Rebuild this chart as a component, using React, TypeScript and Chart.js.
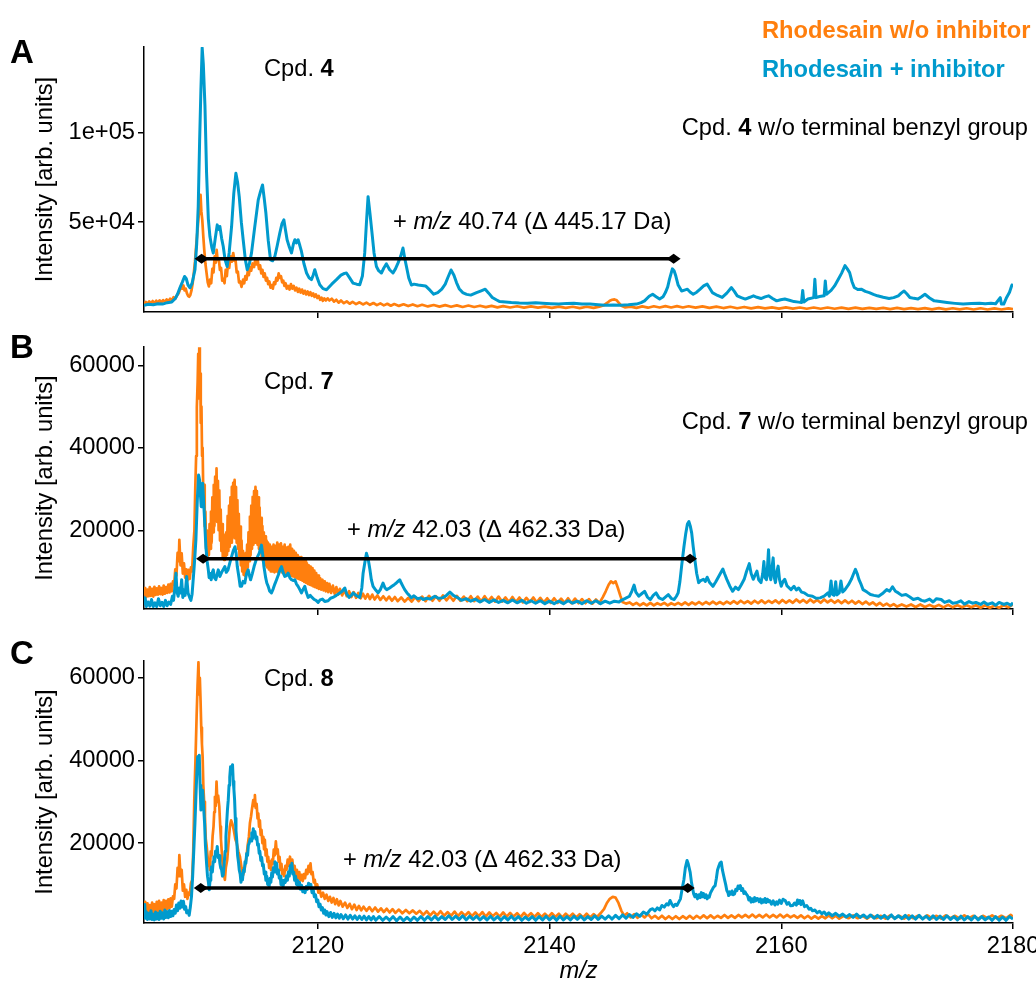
import React, { useEffect, useRef } from 'react';
import { Chart, registerables } from 'chart.js';

Chart.register(...registerables);

type Pt = [number, number];

const FAMILY = '"Liberation Sans", Arial, Helvetica, sans-serif';
const ORANGE = '#FF7F0E';
const BLUE = '#009ACD';

// ---------- axes ----------
const X_MIN = 2105;
const X_MAX = 2180;
const X_TICKS = [2120, 2140, 2160, 2180];
const X_TICK_LABELS = ['2120', '2140', '2160', '2180'];

const A_Y_RANGE = [0, 147500];
const A_Y_TICKS = [50000, 100000];
const A_Y_LABELS = ['5e+04', '1e+05'];
const B_Y_RANGE = [900, 64400];
const C_Y_RANGE = [650, 64100];
const BC_Y_TICKS = [20000, 40000, 60000];
const BC_Y_LABELS = ['20000', '40000', '60000'];

// ---------- mass shift arrows: [from m/z, to m/z, intensity] ----------
const A_ARROW = [2109.97, 2150.71, 29600];
const B_ARROW = [2110.1, 2152.13, 13060];
const C_ARROW = [2109.9, 2151.93, 9100];

// ---------- Panel A (Cpd. 4) ----------
const A_with: Pt[] = [
  [2105.0,3800],[2105.4,4300],[2105.8,4000],[2106.2,4600],[2106.6,4400],[2107.0,5200],[2107.4,5600],[2107.7,7500],[2107.9,10000],
  [2108.1,13500],[2108.3,16500],[2108.5,19800],[2108.65,18500],[2108.8,15000],[2108.97,13500],[2109.15,16000],[2109.4,23500],
  [2109.55,38000],[2109.68,58700],[2109.8,95000],[2109.91,123500],[2110.02,147000],[2110.12,138000],[2110.26,115000],[2110.4,77400],
  [2110.55,52000],[2110.69,42000],[2110.85,36000],[2110.98,32800],[2111.15,41000],[2111.32,48500],[2111.45,46000],[2111.55,47600],
  [2111.7,41000],[2111.84,36500],[2112.0,29000],[2112.18,25300],[2112.35,33000],[2112.56,47600],[2112.75,66000],[2112.93,77200],
  [2113.08,72000],[2113.22,64200],[2113.4,50000],[2113.56,40200],[2113.75,29000],[2113.91,23500],[2114.1,27000],[2114.28,32900],
  [2114.55,47000],[2114.86,62400],[2115.05,67000],[2115.23,70700],[2115.38,63000],[2115.52,55100],[2115.72,40000],[2115.92,29000],
  [2116.1,28500],[2116.29,30900],[2116.5,37000],[2116.72,43900],[2116.9,49000],[2117.07,51300],[2117.2,46000],[2117.35,40200],
  [2117.55,36000],[2117.73,32900],[2117.9,38000],[2118.02,40200],[2118.15,38500],[2118.3,40200],[2118.45,37000],[2118.59,33700],
  [2118.8,27000],[2119.03,21700],[2119.25,19000],[2119.45,18000],[2119.6,20500],[2119.74,23500],[2119.95,19000],[2120.17,15200],
  [2120.45,13000],[2120.75,12400],[2121.2,15500],[2121.61,18000],[2122.0,20500],[2122.3,21500],[2122.47,21700],[2122.75,19000],
  [2123.04,16100],[2123.35,15500],[2123.62,15200],[2123.85,20000],[2124.05,32900],[2124.2,50000],[2124.34,64200],[2124.5,55000],
  [2124.68,43900],[2124.85,33000],[2125.06,25300],[2125.25,23000],[2125.49,21700],[2125.7,24500],[2125.92,26800],[2126.2,23500],
  [2126.49,21700],[2126.7,24000],[2126.92,27200],[2127.15,31000],[2127.35,35600],[2127.5,30000],[2127.65,25300],[2127.85,19000],
  [2128.08,15000],[2128.3,15500],[2128.67,15000],[2129.3,14500],[2129.7,12000],[2130.0,9900],[2130.35,10800],[2130.7,12700],
  [2131.0,15500],[2131.2,18800],[2131.5,23400],[2131.75,20500],[2131.97,16400],[2132.2,13000],[2132.5,10800],[2132.85,9800],
  [2133.2,9400],[2133.7,10800],[2134.1,11800],[2134.45,12700],[2134.75,10500],[2135.06,8100],[2135.4,6800],[2135.7,5800],
  [2136.2,5600],[2136.7,5300],[2137.4,5000],[2138.1,4900],[2138.8,5200],[2139.4,4900],[2140.1,4600],[2140.8,4400],[2141.5,4800],
  [2142.1,4900],[2142.8,4500],[2143.5,4400],[2144.2,4100],[2144.8,3800],[2145.5,3900],[2146.15,3800],[2146.8,4000],[2147.5,4400],
  [2147.9,5200],[2148.2,6200],[2148.6,8800],[2148.9,9900],[2149.2,8500],[2149.5,7200],[2149.8,8500],[2150.0,10800],[2150.2,14000],
  [2150.35,18200],[2150.6,24000],[2150.75,23000],[2150.9,20000],[2151.1,15000],[2151.4,11700],[2151.65,12200],[2151.9,12700],
  [2152.15,11000],[2152.4,9900],[2152.7,11000],[2153.0,12700],[2153.3,14500],[2153.6,15500],[2153.8,13500],[2154.05,10800],
  [2154.5,9200],[2154.9,8100],[2155.3,10500],[2155.7,13600],[2155.95,11500],[2156.2,9000],[2156.55,8000],[2156.9,7200],
  [2157.3,8200],[2157.6,9000],[2157.9,8200],[2158.25,7500],[2158.6,8400],[2158.9,9000],[2159.25,7500],[2159.6,6200],[2159.95,6800],
  [2160.3,7200],[2160.7,6500],[2161.1,5800],[2161.5,5500],[2161.75,5300],[2161.85,12000],[2161.95,5600],[2162.3,7200],[2162.8,8000],
  [2162.9,18200],[2163.0,8000],[2163.3,8600],[2163.7,9000],[2163.8,17300],[2163.9,9900],[2164.3,12000],[2164.6,14500],[2164.9,18000],
  [2165.2,21500],[2165.5,25800],[2165.7,24000],[2165.9,21900],[2166.1,17000],[2166.3,13600],[2166.6,12500],[2166.9,12700],
  [2167.25,11500],[2167.6,10800],[2167.95,9800],[2168.3,9000],[2168.8,8200],[2169.3,7500],[2169.7,8000],[2170.1,9000],[2170.35,10500],
  [2170.6,11700],[2170.85,10000],[2171.1,8100],[2171.45,7600],[2171.8,7200],[2172.1,8500],[2172.4,9900],[2172.8,7800],[2173.2,6200],
  [2173.7,5800],[2174.3,5300],[2175.0,4800],[2175.7,4400],[2176.4,4700],[2177.1,4900],[2177.6,4600],[2178.1,4900],[2178.5,4600],
  [2178.9,8000],[2179.0,4500],[2179.2,4400],[2179.45,8100],[2179.7,11000],[2179.9,14900],[2180.0,15500],
];

const A_without: Pt[] = [
  [2105.0,4200],[2105.15,5600],[2105.3,4600],[2105.45,5900],[2105.6,4800],[2105.75,6100],[2105.9,5000],[2106.05,6300],[2106.2,5200],
  [2106.35,6500],[2106.5,5400],[2106.65,6600],[2106.8,5600],[2106.95,7000],[2107.1,6000],[2107.25,7400],[2107.4,6600],[2107.55,8200],
  [2107.7,7400],[2107.85,9300],[2108.0,10500],[2108.1,12500],[2108.2,14500],[2108.3,13000],[2108.4,14800],[2108.5,12000],[2108.6,13000],
  [2108.7,10500],[2108.8,9000],[2108.9,8500],[2109.0,9500],[2109.1,12000],[2109.2,16000],[2109.3,21700],[2109.4,28000],[2109.5,36500],
  [2109.6,44000],[2109.7,52000],[2109.8,58000],[2109.88,65200],[2109.95,56000],[2110.03,51300],[2110.12,42000],[2110.2,34600],
  [2110.3,27000],[2110.4,21700],[2110.5,16500],[2110.6,14200],[2110.7,18000],[2110.8,16000],[2110.9,24000],[2111.0,22000],
  [2111.1,31000],[2111.2,27500],[2111.27,34600],[2111.35,29000],[2111.45,30000],[2111.55,23500],[2111.65,24500],[2111.75,17500],
  [2111.84,18500],[2111.95,16000],[2112.05,23500],[2112.15,20000],[2112.25,27000],[2112.35,24500],[2112.47,31000],[2112.58,28000],
  [2112.7,32800],[2112.8,28500],[2112.9,29000],[2113.0,22000],[2113.1,22500],[2113.2,16500],[2113.3,17000],[2113.42,14000],
  [2113.55,18000],[2113.65,16000],[2113.75,20000],[2113.85,18000],[2113.95,22500],[2114.05,20500],[2114.15,25000],[2114.25,23000],
  [2114.37,27000],[2114.5,25000],[2114.6,29000],[2114.71,26500],[2114.82,28500],[2114.92,24000],[2115.02,26000],[2115.12,21500],
  [2115.22,23500],[2115.32,19500],[2115.42,21500],[2115.52,17500],[2115.62,19000],[2115.72,15500],[2115.82,17000],[2115.92,13500],
  [2116.02,15000],[2116.12,13000],[2116.22,16500],[2116.32,15500],[2116.42,19000],[2116.52,17500],[2116.62,21500],[2116.72,19000],
  [2116.82,20000],[2116.92,16500],[2117.02,17500],[2117.12,14500],[2117.22,16000],[2117.32,13000],[2117.44,14500],[2117.56,12500],
  [2117.68,15500],[2117.8,13000],[2117.92,14500],[2118.04,12000],[2118.16,13500],[2118.28,11200],[2118.4,13000],[2118.52,10800],
  [2118.64,12500],[2118.76,10200],[2118.88,11800],[2119.0,9800],[2119.12,11400],[2119.24,9400],[2119.36,11000],[2119.48,9000],
  [2119.6,10400],[2119.72,8400],[2119.84,9800],[2119.96,7800],[2120.08,9000],[2120.2,6800],[2120.32,8000],[2120.44,6200],
  [2120.56,7600],[2120.7,6400],[2120.85,7600],[2121.0,6400],[2121.2,7400],[2121.4,5800],[2121.6,6800],[2121.8,5200],[2122.0,6400],
  [2122.25,4900],[2122.5,5900],[2122.75,4600],[2123.0,5600],[2123.3,4400],[2123.6,5400],[2123.9,4200],[2124.2,5200],[2124.5,4000],
  [2124.8,5000],[2125.1,3800],[2125.4,4800],[2125.7,3700],[2126.0,4600],[2126.3,3500],[2126.6,4400],[2127.0,3400],[2127.4,4300],
  [2127.8,3300],[2128.2,4200],[2128.6,3200],[2129.0,4000],[2129.5,3100],[2130.0,3900],[2130.5,3000],[2131.0,3800],[2131.5,2900],
  [2132.0,3700],[2132.5,2800],[2133.0,3600],[2133.5,2800],[2134.0,3500],[2134.5,2700],[2135.0,3400],[2135.5,2600],[2136.0,3300],
  [2136.6,2500],[2137.2,3200],[2137.8,2400],[2138.4,3100],[2139.0,2400],[2139.6,3000],[2140.2,2300],[2140.8,3000],[2141.4,2300],
  [2142.0,2900],[2142.6,2200],[2143.2,2900],[2143.8,2300],[2144.3,3000],[2144.7,3800],[2145.0,5200],[2145.2,6300],[2145.4,6800],
  [2145.6,7000],[2145.8,6500],[2146.0,5000],[2146.2,3500],[2146.5,2600],[2147.0,3000],[2147.5,2300],[2148.0,3100],[2148.5,2400],
  [2149.0,3200],[2149.5,2500],[2150.0,3300],[2150.5,2500],[2151.0,3300],[2151.5,2500],[2152.0,3200],[2152.6,2400],[2153.2,3100],
  [2153.8,2300],[2154.4,3000],[2155.0,2200],[2155.6,2900],[2156.2,2100],[2156.8,2800],[2157.4,2000],[2158.0,2700],[2158.6,2000],
  [2159.2,2600],[2159.8,1900],[2160.4,2600],[2161.0,1900],[2161.6,2500],[2162.2,1800],[2162.8,2500],[2163.4,1800],[2164.0,2500],
  [2164.6,1800],[2165.2,2400],[2165.8,1700],[2166.4,2400],[2167.0,1700],[2167.6,2300],[2168.2,1700],[2168.8,2300],[2169.4,1600],
  [2170.0,2300],[2170.6,1600],[2171.2,2200],[2171.8,1600],[2172.4,2200],[2173.0,1500],[2173.6,2200],[2174.2,1500],[2174.8,2100],
  [2175.4,1500],[2176.0,2100],[2176.6,1400],[2177.2,2100],[2177.8,1400],[2178.4,2000],[2179.0,1400],[2179.6,2000],[2180.0,1600],
];

// ---------- Panel B (Cpd. 7) ----------
const B_with: Pt[] = [
  [2105.0,1800],[2105.1,3600],[2105.2,1500],[2105.35,2600],[2105.5,1600],[2105.65,3200],[2105.8,1500],[2105.95,2400],[2106.1,1500],
  [2106.25,3400],[2106.4,1700],[2106.55,2500],[2106.7,1500],[2106.85,3000],[2107.0,1700],[2107.15,2600],[2107.3,2000],[2107.45,4000],
  [2107.55,3000],[2107.65,5800],[2107.76,9600],[2107.85,5000],[2107.95,4000],[2108.05,6000],[2108.15,4800],[2108.25,8000],[2108.35,3700],
  [2108.45,5500],[2108.55,4200],[2108.68,8800],[2108.8,4800],[2108.95,3600],[2109.05,3000],[2109.15,4500],[2109.31,10400],[2109.4,14000],
  [2109.48,17700],[2109.6,27300],[2109.71,33400],[2109.8,32200],[2109.86,29000],[2109.94,25700],[2110.0,28500],[2110.06,31400],
  [2110.13,28000],[2110.2,24100],[2110.34,16000],[2110.45,12500],[2110.55,10400],[2110.62,8500],[2110.69,9600],[2110.8,8000],
  [2110.9,9800],[2110.98,10400],[2111.08,8500],[2111.2,8000],[2111.3,9200],[2111.41,10400],[2111.55,8800],[2111.7,9800],[2111.84,10500],
  [2111.98,11200],[2112.1,9800],[2112.25,10400],[2112.4,12000],[2112.56,13600],[2112.7,15000],[2112.85,16000],[2112.95,14500],
  [2113.05,11200],[2113.2,8500],[2113.3,6400],[2113.42,6400],[2113.55,7600],[2113.7,7200],[2113.85,9500],[2113.99,10400],[2114.1,9000],
  [2114.2,8000],[2114.35,9500],[2114.5,11200],[2114.7,13000],[2114.94,14400],[2115.05,15500],[2115.14,16400],[2115.25,14000],
  [2115.35,11200],[2115.5,8500],[2115.6,7200],[2115.72,6400],[2115.85,5200],[2116.0,4800],[2116.15,5800],[2116.3,7000],[2116.44,8000],
  [2116.6,9200],[2116.75,10500],[2116.87,11200],[2117.0,9800],[2117.15,8800],[2117.3,9000],[2117.44,9600],[2117.6,8400],[2117.73,8000],
  [2117.9,7800],[2118.02,8000],[2118.15,7000],[2118.3,6400],[2118.45,5600],[2118.59,4800],[2118.72,5600],[2118.88,6400],[2119.0,5000],
  [2119.17,3700],[2119.35,4200],[2119.5,3700],[2119.7,3200],[2119.85,3000],[2120.03,2500],[2120.2,3100],[2120.4,3300],[2120.6,2700],
  [2120.89,2900],[2121.1,3500],[2121.3,3700],[2121.6,4200],[2121.9,4800],[2122.1,5200],[2122.33,6000],[2122.5,4500],[2122.7,3700],
  [2122.9,4200],[2123.05,4800],[2123.3,4200],[2123.62,3700],[2123.8,6000],[2123.91,9600],[2124.05,12000],[2124.2,14400],[2124.35,13000],
  [2124.5,10400],[2124.62,8000],[2124.77,6400],[2125.0,5500],[2125.2,4800],[2125.4,5600],[2125.63,7200],[2125.8,6000],[2125.95,5600],
  [2126.2,6000],[2126.4,6400],[2126.6,6800],[2126.78,7200],[2126.92,7600],[2127.07,8000],[2127.2,7200],[2127.35,6400],[2127.5,5600],
  [2127.7,4800],[2127.9,4200],[2128.07,3600],[2128.3,4100],[2128.6,3400],[2128.9,3600],[2129.1,3200],[2129.4,3500],[2129.7,3300],
  [2130.1,4000],[2130.4,3500],[2130.76,3600],[2131.1,4200],[2131.4,5000],[2131.7,4200],[2132.1,3600],[2132.4,3000],[2132.8,3400],
  [2133.2,2800],[2133.6,3300],[2134.0,2600],[2134.4,3200],[2134.8,2500],[2135.2,3100],[2135.6,2500],[2136.0,3000],[2136.4,2400],
  [2136.8,3100],[2137.2,2400],[2137.6,3000],[2138.0,2300],[2138.4,2900],[2138.8,2300],[2139.2,2900],[2139.6,2200],[2140.0,2800],
  [2140.4,2200],[2140.8,2800],[2141.2,2200],[2141.6,2900],[2142.0,2300],[2142.4,2800],[2142.8,2200],[2143.2,2900],[2143.6,2300],
  [2144.0,2900],[2144.4,2200],[2144.8,2800],[2145.2,2300],[2145.6,2800],[2146.0,2600],[2146.2,3000],[2146.5,3400],[2146.9,4000],
  [2147.1,5200],[2147.3,6700],[2147.45,5000],[2147.7,4000],[2147.95,4600],[2148.2,5200],[2148.45,3800],[2148.7,3200],[2148.95,4200],
  [2149.2,4800],[2149.45,3600],[2149.75,3200],[2150.0,3800],[2150.25,4400],[2150.5,3500],[2150.76,3200],[2150.95,4000],[2151.1,4800],
  [2151.25,7500],[2151.4,11300],[2151.6,16000],[2151.76,19300],[2151.9,21500],[2152.03,22100],[2152.15,21000],[2152.27,19300],
  [2152.4,16000],[2152.54,12900],[2152.7,9500],[2152.87,7300],[2153.05,7800],[2153.28,8100],[2153.45,7600],[2153.6,8600],[2153.8,7400],
  [2154.1,6400],[2154.35,7500],[2154.6,8800],[2154.8,9800],[2154.96,10600],[2155.1,9500],[2155.3,8100],[2155.55,6500],[2155.8,5200],
  [2156.05,6200],[2156.3,5600],[2156.55,6800],[2156.8,8100],[2157.0,10000],[2157.24,11900],[2157.4,9500],[2157.58,8100],[2157.75,9200],
  [2157.9,10100],[2158.05,8000],[2158.25,7300],[2158.4,9500],[2158.5,12400],[2158.6,8500],[2158.72,8000],[2158.82,11500],[2158.9,15300],
  [2159.0,9000],[2159.1,8000],[2159.2,11000],[2159.3,13300],[2159.4,8500],[2159.5,7300],[2159.62,10000],[2159.73,11300],[2159.85,8000],
  [2160.0,6400],[2160.15,7600],[2160.3,8100],[2160.5,6500],[2160.84,5600],[2161.1,6400],[2161.3,5500],[2161.5,6000],[2161.75,5000],
  [2162.0,4800],[2162.3,4200],[2162.7,4000],[2163.0,3500],[2163.36,3600],[2163.7,4000],[2164.03,4800],[2164.15,4000],[2164.3,7700],
  [2164.4,4500],[2164.55,4200],[2164.7,7500],[2164.8,4300],[2165.0,4800],[2165.15,7700],[2165.3,5000],[2165.5,5600],[2165.8,6800],
  [2166.05,8100],[2166.25,9500],[2166.4,10500],[2166.55,9500],[2166.7,8100],[2166.9,6800],[2167.06,5600],[2167.4,5000],[2167.7,4400],
  [2168.0,4200],[2168.4,4000],[2168.8,4800],[2169.1,5600],[2169.35,5200],[2169.6,6300],[2169.85,5200],[2170.1,4800],[2170.4,4200],
  [2170.76,4400],[2171.1,3800],[2171.4,3200],[2171.8,3500],[2172.1,3000],[2172.4,2800],[2172.8,3300],[2173.1,2600],[2173.4,3400],
  [2173.8,3200],[2174.1,2500],[2174.5,2900],[2174.8,2300],[2175.1,2400],[2175.5,2900],[2175.8,2100],[2176.2,2700],[2176.5,2300],
  [2176.8,2500],[2177.2,2000],[2177.5,2600],[2177.8,2000],[2178.2,2400],[2178.5,1800],[2178.8,2500],[2179.2,2000],[2179.5,2300],
  [2179.8,1800],[2180.0,2400],
];

const B_without: Pt[] = [
  [2105.0,4200],[2105.1,6000],[2105.2,3800],[2105.3,5600],[2105.4,4000],[2105.5,6200],[2105.6,4100],[2105.7,5800],[2105.8,3900],
  [2105.9,6300],[2106.0,4300],[2106.1,5900],[2106.2,4400],[2106.3,6400],[2106.4,4500],[2106.5,6000],[2106.6,4400],[2106.7,6600],
  [2106.8,4600],[2106.9,6200],[2107.0,4800],[2107.1,6800],[2107.2,4900],[2107.3,7000],[2107.4,5200],[2107.5,7600],[2107.6,6800],
  [2107.7,10500],[2107.8,9000],[2107.9,14500],[2108.0,12500],[2108.05,17700],[2108.15,11500],[2108.25,14400],[2108.35,9500],
  [2108.45,12000],[2108.55,8500],[2108.65,10500],[2108.75,7800],[2108.85,10400],[2108.95,8200],[2109.05,11000],[2109.15,10000],
  [2109.25,16000],[2109.35,20000],[2109.42,29700],[2109.5,38000],[2109.56,49900],[2109.63,56000],[2109.68,62800],[2109.73,52000],
  [2109.77,64400],[2109.82,55000],[2109.86,58000],[2109.9,46000],[2109.96,50000],[2110.01,38000],[2110.06,40000],[2110.12,28000],
  [2110.18,31000],[2110.24,21000],[2110.3,24500],[2110.36,15500],[2110.42,20000],[2110.48,13500],[2110.54,18500],[2110.6,14000],
  [2110.66,21500],[2110.72,15500],[2110.78,24500],[2110.84,17000],[2110.9,28000],[2110.96,19500],[2111.02,31000],[2111.08,21000],
  [2111.14,33000],[2111.2,22500],[2111.26,35000],[2111.32,22000],[2111.38,32000],[2111.44,20000],[2111.5,29700],[2111.56,17500],
  [2111.62,25000],[2111.68,15000],[2111.74,21500],[2111.8,13500],[2111.86,19000],[2111.92,12800],[2111.98,17000],[2112.04,13500],
  [2112.1,19500],[2112.16,14000],[2112.22,23500],[2112.28,15000],[2112.34,26000],[2112.4,16000],[2112.46,28000],[2112.52,17000],
  [2112.58,30500],[2112.64,18000],[2112.7,31500],[2112.76,18500],[2112.82,32200],[2112.88,18000],[2112.94,30500],[2113.0,17000],
  [2113.06,27300],[2113.12,15500],[2113.18,24000],[2113.24,13500],[2113.3,20900],[2113.36,11500],[2113.42,17500],[2113.48,10000],
  [2113.54,15000],[2113.6,9200],[2113.66,13500],[2113.72,9000],[2113.78,14500],[2113.84,9800],[2113.9,16500],[2113.96,11000],
  [2114.02,19500],[2114.08,12500],[2114.14,23300],[2114.2,14000],[2114.26,26000],[2114.32,15500],[2114.38,28100],[2114.44,16500],
  [2114.5,29500],[2114.56,17000],[2114.62,30500],[2114.68,17000],[2114.74,29500],[2114.8,16500],[2114.86,28000],[2114.92,15500],
  [2114.98,25500],[2115.04,14500],[2115.1,23000],[2115.16,13500],[2115.22,21000],[2115.28,12500],[2115.34,19500],[2115.4,12000],
  [2115.46,18500],[2115.52,11500],[2115.58,17500],[2115.64,11000],[2115.7,17000],[2115.78,10500],[2115.86,16500],[2115.94,10000],
  [2116.02,16000],[2116.1,10000],[2116.18,16500],[2116.26,9800],[2116.34,16200],[2116.42,10000],[2116.5,17000],[2116.58,9800],
  [2116.66,16500],[2116.74,10200],[2116.82,16800],[2116.9,9800],[2116.98,16000],[2117.06,9600],[2117.14,16500],[2117.22,9500],
  [2117.3,15800],[2117.38,9400],[2117.46,16000],[2117.54,9200],[2117.62,16500],[2117.7,9000],[2117.78,15500],[2117.86,8800],
  [2117.94,15000],[2118.02,8600],[2118.1,14500],[2118.18,8400],[2118.26,14000],[2118.34,8200],[2118.42,13500],[2118.5,8000],
  [2118.58,13500],[2118.66,7800],[2118.74,13000],[2118.82,7500],[2118.9,12500],[2118.98,7300],[2119.06,12000],[2119.14,7000],
  [2119.22,11500],[2119.3,6800],[2119.38,11200],[2119.46,6600],[2119.54,10800],[2119.62,6400],[2119.7,10200],[2119.78,6200],
  [2119.86,9600],[2119.94,6000],[2120.02,9000],[2120.1,5800],[2120.2,8400],[2120.3,5600],[2120.4,8000],[2120.5,5400],[2120.6,7600],
  [2120.7,5200],[2120.8,7200],[2120.9,5000],[2121.0,7000],[2121.15,4800],[2121.3,6600],[2121.45,4600],[2121.6,6200],[2121.75,4400],
  [2121.9,5800],[2122.1,4200],[2122.3,5600],[2122.5,4000],[2122.7,5200],[2122.9,3800],[2123.1,5000],[2123.3,3600],[2123.5,4800],
  [2123.7,3500],[2123.9,4600],[2124.1,3400],[2124.3,4500],[2124.5,3300],[2124.7,4400],[2124.9,3200],[2125.15,4200],[2125.4,3100],
  [2125.65,4000],[2125.9,3000],[2126.15,3900],[2126.4,2900],[2126.65,3800],[2126.9,2800],[2127.2,3700],[2127.5,2700],[2127.8,3600],
  [2128.1,2700],[2128.4,3800],[2128.7,2800],[2129.0,3900],[2129.3,2800],[2129.6,4100],[2129.9,2900],[2130.2,4000],[2130.5,2900],
  [2130.8,4200],[2131.1,3000],[2131.4,4000],[2131.7,2900],[2132.0,4100],[2132.3,2900],[2132.6,3900],[2132.9,2800],[2133.2,4000],
  [2133.5,2800],[2133.8,3900],[2134.1,2700],[2134.4,4000],[2134.7,2800],[2135.0,3800],[2135.3,2700],[2135.6,3900],[2135.9,2700],
  [2136.2,3700],[2136.5,2600],[2136.8,3800],[2137.1,2600],[2137.4,3700],[2137.7,2500],[2138.0,3600],[2138.3,2600],[2138.6,3700],
  [2138.9,2500],[2139.2,3600],[2139.5,2500],[2139.8,3500],[2140.1,2400],[2140.4,3500],[2140.7,2400],[2141.0,3400],[2141.3,2400],
  [2141.6,3500],[2141.9,2300],[2142.2,3400],[2142.5,2300],[2142.8,3300],[2143.1,2300],[2143.4,3300],[2143.7,2200],[2144.0,3200],
  [2144.3,2300],[2144.6,3800],[2144.85,5200],[2145.1,6800],[2145.3,7600],[2145.5,7200],[2145.7,7600],[2145.9,6000],[2146.1,4200],
  [2146.3,2600],[2146.6,2200],[2146.9,2500],[2147.2,1900],[2147.5,2400],[2147.8,1800],[2148.1,2300],[2148.4,1800],[2148.7,2400],
  [2149.0,1800],[2149.3,2300],[2149.6,1900],[2149.9,2400],[2150.2,1800],[2150.5,2300],[2150.8,1900],[2151.1,2400],[2151.4,1900],
  [2151.7,2500],[2152.0,1900],[2152.3,2500],[2152.6,2000],[2152.9,2600],[2153.2,2000],[2153.5,2600],[2153.8,2100],[2154.1,2700],
  [2154.4,2100],[2154.7,2600],[2155.0,2100],[2155.3,2700],[2155.6,2200],[2155.9,2800],[2156.2,2200],[2156.5,2900],[2156.8,2300],
  [2157.1,2800],[2157.4,2200],[2157.7,2900],[2158.0,2300],[2158.3,3000],[2158.6,2300],[2158.9,2900],[2159.2,2400],[2159.5,3000],
  [2159.8,2300],[2160.1,3100],[2160.4,2400],[2160.7,3000],[2161.0,2400],[2161.3,3200],[2161.6,2500],[2161.9,3100],[2162.2,2400],
  [2162.5,3200],[2162.8,2500],[2163.1,3100],[2163.4,2400],[2163.7,3200],[2164.0,2500],[2164.3,3100],[2164.6,2400],[2164.9,3000],
  [2165.2,2300],[2165.5,3000],[2165.8,2300],[2166.1,2900],[2166.4,2200],[2166.7,2800],[2167.0,2100],[2167.3,2700],[2167.6,2000],
  [2167.9,2500],[2168.2,1800],[2168.5,2400],[2168.8,1700],[2169.1,2200],[2169.4,1600],[2169.7,2100],[2170.0,1500],[2170.4,2000],
  [2170.8,1500],[2171.2,2000],[2171.6,1400],[2172.0,2000],[2172.4,1400],[2172.8,1900],[2173.2,1400],[2173.6,1900],[2174.0,1300],
  [2174.4,1900],[2174.8,1300],[2175.2,1800],[2175.6,1300],[2176.0,1800],[2176.4,1300],[2176.8,1800],[2177.2,1200],[2177.6,1800],
  [2178.0,1200],[2178.4,1700],[2178.8,1200],[2179.2,1800],[2179.6,1300],[2180.0,2000],
];

// ---------- Panel C (Cpd. 8) ----------
const C_with: Pt[] = [
  [2105.0,2000],[2105.06,5100],[2105.12,1800],[2105.2,3400],[2105.3,1500],[2105.4,3000],[2105.5,1600],[2105.6,3600],[2105.7,1500],
  [2105.8,2800],[2105.9,1400],[2106.0,3300],[2106.1,1600],[2106.2,3000],[2106.3,1500],[2106.4,3500],[2106.5,1800],[2106.6,3100],
  [2106.7,1600],[2106.8,3800],[2106.9,2000],[2107.0,3400],[2107.1,1900],[2107.2,3700],[2107.3,2200],[2107.4,3500],[2107.5,2400],
  [2107.6,3900],[2107.7,3000],[2107.8,5000],[2107.9,3600],[2108.0,5500],[2108.1,4200],[2108.2,6000],[2108.3,4500],[2108.4,5900],
  [2108.5,4000],[2108.6,4600],[2108.68,3100],[2108.8,3600],[2108.9,2500],[2109.0,4500],[2109.1,7100],[2109.2,12000],[2109.3,18400],
  [2109.4,25000],[2109.48,31200],[2109.56,37000],[2109.63,40900],[2109.7,38000],[2109.77,41300],[2109.84,34000],[2109.91,28000],
  [2109.98,30500],[2110.06,32800],[2110.14,29000],[2110.23,24800],[2110.3,19500],[2110.4,15100],[2110.48,12000],[2110.56,10500],
  [2110.63,8700],[2110.7,11000],[2110.77,12500],[2110.83,14300],[2110.9,13000],[2110.97,15500],[2111.03,16700],[2111.1,15500],
  [2111.17,18000],[2111.25,17000],[2111.32,19200],[2111.4,16500],[2111.48,17000],[2111.55,15100],[2111.62,14000],[2111.7,13500],
  [2111.77,12000],[2111.84,12300],[2111.92,15000],[2112.0,18000],[2112.07,21600],[2112.14,25000],[2112.2,28000],[2112.27,30400],
  [2112.34,34000],[2112.4,36000],[2112.47,38500],[2112.55,37500],[2112.64,39000],[2112.7,35000],[2112.76,33000],[2112.82,30400],
  [2112.88,26000],[2112.94,23000],[2113.0,20800],[2113.08,17000],[2113.15,15500],[2113.22,13500],[2113.3,12500],[2113.37,10500],
  [2113.44,12000],[2113.5,11100],[2113.58,13500],[2113.65,13000],[2113.72,15500],[2113.79,15100],[2113.86,17500],[2113.94,17000],
  [2114.01,19500],[2114.08,20000],[2114.16,21000],[2114.24,20500],[2114.3,22500],[2114.36,21000],[2114.43,23500],[2114.5,21500],
  [2114.57,22800],[2114.66,21000],[2114.74,21500],[2114.8,19500],[2114.87,19800],[2114.94,17500],[2115.0,18000],[2115.08,15800],
  [2115.16,16500],[2115.23,14500],[2115.3,14800],[2115.38,12500],[2115.45,13000],[2115.52,11000],[2115.6,12000],[2115.67,10000],
  [2115.74,11000],[2115.8,9500],[2115.88,11500],[2115.95,10500],[2116.02,12800],[2116.09,11800],[2116.16,14000],[2116.23,13000],
  [2116.3,15500],[2116.38,14000],[2116.45,15100],[2116.52,12500],[2116.6,13500],[2116.67,11500],[2116.75,12000],[2116.82,10000],
  [2116.9,11000],[2117.0,9500],[2117.1,11000],[2117.2,10500],[2117.3,12000],[2117.38,11000],[2117.46,13000],[2117.54,12000],
  [2117.62,14500],[2117.7,13000],[2117.76,15100],[2117.84,12500],[2117.92,13000],[2118.0,11000],[2118.08,12000],[2118.16,10000],
  [2118.25,11000],[2118.33,9200],[2118.42,10500],[2118.5,8800],[2118.6,9800],[2118.7,8200],[2118.8,9200],[2118.9,8000],[2119.0,9500],
  [2119.1,8800],[2119.2,10300],[2119.31,9800],[2119.4,10000],[2119.5,8000],[2119.6,8800],[2119.7,7000],[2119.8,7500],[2119.9,5800],
  [2120.0,6200],[2120.1,4600],[2120.2,5200],[2120.3,3800],[2120.4,4400],[2120.5,3000],[2120.6,3800],[2120.7,2600],[2120.8,3400],
  [2120.95,2200],[2121.1,3200],[2121.25,2000],[2121.4,3000],[2121.55,1900],[2121.7,2800],[2121.85,1800],[2122.0,2700],[2122.2,1700],
  [2122.4,2600],[2122.6,1600],[2122.8,2500],[2123.0,1600],[2123.2,2400],[2123.4,1500],[2123.6,2300],[2123.8,1500],[2124.0,2300],
  [2124.2,1400],[2124.4,2200],[2124.6,1400],[2124.8,2200],[2125.0,1300],[2125.3,2200],[2125.6,1300],[2125.9,2100],[2126.2,1300],
  [2126.5,2200],[2126.8,1200],[2127.1,2100],[2127.4,1200],[2127.7,2000],[2128.0,1200],[2128.3,2100],[2128.6,1300],[2128.9,2200],
  [2129.2,1300],[2129.5,2200],[2129.8,1400],[2130.1,2300],[2130.4,1400],[2130.7,2200],[2131.0,1500],[2131.3,2400],[2131.6,1500],
  [2131.9,2300],[2132.2,1500],[2132.5,2400],[2132.8,1400],[2133.1,2300],[2133.4,1500],[2133.7,2300],[2134.0,1400],[2134.3,2200],
  [2134.6,1400],[2134.9,2300],[2135.2,1400],[2135.5,2200],[2135.8,1300],[2136.1,2200],[2136.4,1400],[2136.7,2300],[2137.0,1400],
  [2137.3,2200],[2137.6,1300],[2137.9,2100],[2138.2,1400],[2138.5,2200],[2138.8,1300],[2139.1,2200],[2139.4,1400],[2139.7,2300],
  [2140.0,1400],[2140.3,2200],[2140.6,1300],[2140.9,2300],[2141.2,1400],[2141.5,2200],[2141.8,1400],[2142.1,2300],[2142.4,1500],
  [2142.7,2300],[2143.0,1400],[2143.3,2200],[2143.6,1500],[2143.9,2400],[2144.2,1500],[2144.5,2300],[2144.8,1600],[2145.1,2400],
  [2145.4,1600],[2145.7,2500],[2146.0,1700],[2146.3,2600],[2146.6,1800],[2146.9,2700],[2147.2,2000],[2147.5,2900],[2147.8,2300],
  [2148.1,3300],[2148.4,2800],[2148.7,3900],[2148.9,4100],[2149.1,3600],[2149.3,4300],[2149.5,3800],[2149.7,4900],[2149.9,4500],
  [2150.1,5300],[2150.25,5000],[2150.4,6100],[2150.55,5200],[2150.7,4600],[2150.86,5200],[2151.0,4900],[2151.15,5700],[2151.3,6500],
  [2151.45,9000],[2151.6,11200],[2151.72,14000],[2151.87,15800],[2151.97,15000],[2152.05,14000],[2152.14,12900],[2152.25,10500],
  [2152.35,9000],[2152.44,7700],[2152.55,7000],[2152.65,7600],[2152.77,6500],[2152.9,7500],[2153.0,6800],[2153.1,8000],[2153.2,7000],
  [2153.28,7800],[2153.4,6800],[2153.5,7500],[2153.6,6500],[2153.7,7200],[2153.78,6900],[2153.9,8000],[2154.0,8500],[2154.15,9300],
  [2154.29,9700],[2154.4,11500],[2154.5,13500],[2154.62,14500],[2154.72,15200],[2154.82,15400],[2154.92,13500],[2155.0,12500],
  [2155.1,11200],[2155.2,10000],[2155.3,8500],[2155.4,8000],[2155.46,7300],[2155.55,8200],[2155.65,7600],[2155.75,8400],[2155.85,7500],
  [2155.97,7700],[2156.07,8800],[2156.17,8500],[2156.27,9600],[2156.37,9000],[2156.47,9700],[2156.57,8500],[2156.67,9000],
  [2156.77,7800],[2156.87,8200],[2156.97,7700],[2157.1,7200],[2157.2,6200],[2157.3,6800],[2157.4,5700],[2157.5,6500],[2157.6,5800],
  [2157.7,6800],[2157.8,6000],[2157.9,6600],[2157.98,6500],[2158.1,5800],[2158.2,6500],[2158.3,5500],[2158.4,6300],[2158.5,5700],
  [2158.6,6600],[2158.7,5600],[2158.8,6400],[2158.9,5800],[2159.0,6100],[2159.15,5200],[2159.3,6000],[2159.45,5000],[2159.6,5800],
  [2159.7,5200],[2159.85,6200],[2160.0,5400],[2160.15,6400],[2160.34,6100],[2160.5,5200],[2160.65,5600],[2160.8,4800],[2161.0,4900],
  [2161.15,5500],[2161.3,5000],[2161.4,6200],[2161.5,5400],[2161.6,6100],[2161.7,5100],[2161.85,6000],[2162.0,4600],[2162.2,4900],
  [2162.4,4000],[2162.55,4200],[2162.7,3600],[2162.9,3800],[2163.1,3100],[2163.3,3500],[2163.5,2900],[2163.7,3300],[2163.9,2600],
  [2164.1,3100],[2164.4,2400],[2164.7,3000],[2165.0,2300],[2165.3,2800],[2165.6,2100],[2165.9,2700],[2166.2,2000],[2166.5,2800],
  [2166.8,2000],[2167.1,2600],[2167.4,1900],[2167.7,2600],[2168.0,1800],[2168.3,2500],[2168.6,1800],[2168.9,2500],[2169.2,1700],
  [2169.5,2600],[2169.8,1700],[2170.1,2400],[2170.4,1700],[2170.7,2500],[2171.0,1600],[2171.3,2400],[2171.6,1600],[2171.9,2500],
  [2172.2,1600],[2172.5,2300],[2172.8,1500],[2173.1,2400],[2173.4,1500],[2173.7,2300],[2174.0,1500],[2174.3,2400],[2174.6,1500],
  [2174.9,2200],[2175.2,1400],[2175.5,2300],[2175.8,1400],[2176.1,2200],[2176.4,1400],[2176.7,2300],[2177.0,1400],[2177.3,2200],
  [2177.6,1400],[2177.9,2100],[2178.2,1300],[2178.5,2200],[2178.8,1300],[2179.1,2100],[2179.4,1300],[2179.7,2200],[2180.0,1600],
];

const C_without: Pt[] = [
  [2105.0,3000],[2105.1,5800],[2105.2,3200],[2105.3,5400],[2105.4,2600],[2105.5,5000],[2105.6,3000],[2105.7,5600],[2105.8,3300],
  [2105.9,5200],[2106.0,3000],[2106.1,5800],[2106.2,3500],[2106.3,6000],[2106.4,3400],[2106.5,5600],[2106.6,3600],[2106.7,6200],
  [2106.8,3800],[2106.9,6000],[2107.0,4000],[2107.1,6400],[2107.2,4200],[2107.3,6600],[2107.4,4600],[2107.5,7100],[2107.6,6500],
  [2107.7,10000],[2107.8,9000],[2107.9,14000],[2108.0,12000],[2108.05,17100],[2108.15,12000],[2108.25,13500],[2108.35,8500],
  [2108.45,10000],[2108.55,7000],[2108.65,8700],[2108.75,6500],[2108.85,8000],[2108.95,7500],[2109.05,10300],[2109.15,11000],
  [2109.25,18000],[2109.34,30400],[2109.44,40000],[2109.54,50600],[2109.62,58000],[2109.7,63800],[2109.76,56000],[2109.82,60000],
  [2109.88,54600],[2109.94,48000],[2110.0,44000],[2110.06,40900],[2110.12,34000],[2110.19,30000],[2110.26,26400],[2110.33,21000],
  [2110.4,19500],[2110.49,16700],[2110.56,14500],[2110.63,15500],[2110.69,13500],[2110.76,18000],[2110.84,17000],[2110.92,21600],
  [2111.0,24000],[2111.06,27500],[2111.12,31200],[2111.19,29000],[2111.26,34900],[2111.33,30000],[2111.4,31500],[2111.5,28800],
  [2111.58,24000],[2111.64,21000],[2111.7,18400],[2111.78,15000],[2111.86,13000],[2111.98,11100],[2112.06,14000],[2112.18,15900],
  [2112.28,19500],[2112.41,24000],[2112.52,25500],[2112.64,24500],[2112.76,23000],[2112.88,21000],[2113.0,20000],[2113.14,18000],
  [2113.28,16700],[2113.42,14000],[2113.56,12300],[2113.7,14000],[2113.85,16700],[2113.95,19500],[2114.05,21500],[2114.14,24800],
  [2114.24,26500],[2114.33,28500],[2114.43,30400],[2114.5,29000],[2114.57,31600],[2114.64,28500],[2114.72,29500],[2114.8,26000],
  [2114.86,27200],[2114.93,24000],[2115.0,25500],[2115.07,22000],[2115.14,23200],[2115.22,20000],[2115.3,21500],[2115.36,18500],
  [2115.43,20800],[2115.5,17000],[2115.58,18500],[2115.65,15500],[2115.72,16700],[2115.8,14000],[2115.88,15500],[2115.96,13500],
  [2116.04,16000],[2116.12,15000],[2116.2,18400],[2116.28,17000],[2116.38,20400],[2116.46,17500],[2116.54,18500],[2116.62,15500],
  [2116.7,16700],[2116.78,13500],[2116.86,15000],[2116.94,12500],[2117.0,13500],[2117.1,12000],[2117.2,14500],[2117.3,13500],
  [2117.4,16000],[2117.5,14500],[2117.6,16700],[2117.7,14500],[2117.8,16000],[2117.9,13000],[2118.0,14500],[2118.1,12000],
  [2118.2,13500],[2118.3,11500],[2118.4,13000],[2118.5,11000],[2118.6,12300],[2118.7,10800],[2118.8,12500],[2118.9,11500],
  [2119.0,13500],[2119.1,12500],[2119.2,14500],[2119.3,13000],[2119.37,15100],[2119.45,12500],[2119.55,13000],[2119.65,10500],
  [2119.74,11100],[2119.85,9000],[2119.95,10000],[2120.05,8000],[2120.17,8700],[2120.3,7000],[2120.45,8000],[2120.6,6500],
  [2120.75,7500],[2120.9,6000],[2121.05,7000],[2121.2,5600],[2121.35,6700],[2121.5,5200],[2121.65,6400],[2121.8,4900],[2121.95,6000],
  [2122.15,4600],[2122.35,5600],[2122.55,4300],[2122.75,5300],[2122.95,4000],[2123.15,5100],[2123.35,3800],[2123.55,4800],
  [2123.75,3700],[2123.95,4600],[2124.2,3600],[2124.45,4500],[2124.7,3500],[2124.95,4400],[2125.2,3400],[2125.45,4200],[2125.7,3300],
  [2125.95,4100],[2126.2,3200],[2126.45,4000],[2126.7,3100],[2127.0,3900],[2127.3,3000],[2127.6,3800],[2127.9,3000],[2128.2,3700],
  [2128.5,2900],[2128.8,3600],[2129.1,2600],[2129.4,3500],[2129.7,2500],[2130.0,3400],[2130.3,2500],[2130.6,3500],[2130.9,2400],
  [2131.2,3300],[2131.5,2400],[2131.8,3400],[2132.1,2300],[2132.4,3300],[2132.7,2400],[2133.0,3300],[2133.3,2300],[2133.6,3200],
  [2133.9,2300],[2134.2,3300],[2134.5,2200],[2134.8,3200],[2135.1,2300],[2135.4,3100],[2135.7,2200],[2136.0,3200],[2136.3,2200],
  [2136.6,3100],[2136.9,2200],[2137.2,3000],[2137.5,2100],[2137.8,3100],[2138.1,2200],[2138.4,3000],[2138.7,2100],[2139.0,3000],
  [2139.3,2100],[2139.6,2900],[2139.9,2100],[2140.2,3000],[2140.5,2100],[2140.8,2900],[2141.1,2000],[2141.4,2900],[2141.7,2100],
  [2142.0,2900],[2142.3,2000],[2142.6,2800],[2142.9,2000],[2143.2,2900],[2143.5,2000],[2143.8,2800],[2144.1,2100],[2144.4,3000],
  [2144.7,4000],[2144.95,5500],[2145.2,6500],[2145.45,7000],[2145.7,6800],[2145.95,5500],[2146.2,3600],[2146.45,2400],[2146.7,3000],
  [2147.0,2000],[2147.3,2800],[2147.6,1900],[2147.9,2700],[2148.2,2000],[2148.5,2800],[2148.8,1800],[2149.1,2400],[2149.4,1700],
  [2149.7,2400],[2150.0,1600],[2150.3,2300],[2150.6,1600],[2150.9,2300],[2151.2,1600],[2151.5,2300],[2151.8,1700],[2152.1,2400],
  [2152.4,1700],[2152.7,2400],[2153.0,1800],[2153.3,2500],[2153.6,1800],[2153.9,2500],[2154.2,1800],[2154.5,2400],[2154.8,1900],
  [2155.1,2600],[2155.4,1900],[2155.7,2500],[2156.0,1900],[2156.3,2600],[2156.6,2000],[2156.9,2600],[2157.2,2000],[2157.5,2700],
  [2157.8,2000],[2158.1,2600],[2158.4,2000],[2158.7,2700],[2159.0,2000],[2159.3,2600],[2159.6,2000],[2159.9,2700],[2160.2,2000],
  [2160.5,2600],[2160.8,2000],[2161.1,2500],[2161.4,1900],[2161.7,2500],[2162.0,1800],[2162.3,2400],[2162.6,1700],[2162.9,2300],
  [2163.2,1700],[2163.5,2300],[2163.8,1800],[2164.1,2500],[2164.4,1800],[2164.7,2400],[2165.0,1700],[2165.4,2400],[2165.8,1800],
  [2166.2,2500],[2166.6,1800],[2167.0,2400],[2167.4,1700],[2167.8,2500],[2168.2,1800],[2168.6,2400],[2169.0,1700],[2169.4,2500],
  [2169.8,1800],[2170.2,2400],[2170.6,1700],[2171.0,2500],[2171.4,1800],[2171.8,2400],[2172.2,1700],[2172.6,2500],[2173.0,1800],
  [2173.4,2400],[2173.8,1700],[2174.2,2500],[2174.6,1800],[2175.0,2400],[2175.4,1700],[2175.8,2500],[2176.2,1800],[2176.6,2400],
  [2177.0,1700],[2177.4,2400],[2177.8,1800],[2178.2,2500],[2178.6,1800],[2179.0,2400],[2179.4,1800],[2179.8,2600],[2180.0,2200],
];

// ---------- text helpers ----------
type Seg = { t: string; b?: boolean; i?: boolean };
type TextItem = { segs: Seg[]; x: number; y: number; align: 'left' | 'right' | 'center'; size: number; color: string };

const cpd = (n: string): Seg[] => [{ t: 'Cpd. ' }, { t: n, b: true }];
const cpdWo = (n: string): Seg[] => [{ t: 'Cpd. ' }, { t: n, b: true }, { t: ' w/o terminal benzyl group' }];
const shift = (mz: string, da: string): Seg[] => [{ t: '+ ' }, { t: 'm/z', i: true }, { t: ` ${mz} (\u0394 ${da} Da)` }];

function fontOf(s: Seg, size: number) {
  return `${s.i ? 'italic ' : ''}${s.b ? 'bold ' : ''}${size}px ${FAMILY}`;
}

function drawRich(ctx: CanvasRenderingContext2D, item: TextItem, offsetY: number) {
  const widths = item.segs.map((s) => {
    ctx.font = fontOf(s, item.size);
    return ctx.measureText(s.t).width;
  });
  const total = widths.reduce((a, b) => a + b, 0);
  let x = item.x;
  if (item.align === 'right') x -= total;
  if (item.align === 'center') x -= total / 2;
  ctx.textAlign = 'left';
  ctx.textBaseline = 'alphabetic';
  ctx.fillStyle = item.color;
  item.segs.forEach((s, k) => {
    ctx.font = fontOf(s, item.size);
    ctx.fillText(s.t, x, item.y - offsetY);
    x += widths[k];
  });
}

interface PanelSpec {
  id: string;
  top: number;
  height: number;
  padTop: number;
  xHeight: number;
  yRange: number[];
  yTicks: number[];
  yLabels: string[];
  blue: Pt[];
  orange: Pt[];
  arrow: number[];
  texts: TextItem[];
  bottom: boolean;
}

const TXT = 23.7;
const LETTER = 33;

const PANELS: PanelSpec[] = [
  {
    id: 'A', top: 0, height: 330, padTop: 47, xHeight: 18,
    yRange: A_Y_RANGE, yTicks: A_Y_TICKS, yLabels: A_Y_LABELS,
    blue: A_with, orange: A_without, arrow: A_ARROW, bottom: false,
    texts: [
      { segs: [{ t: 'A', b: true }], x: 10, y: 63, align: 'left', size: LETTER, color: '#000' },
      { segs: [{ t: 'Rhodesain w/o inhibitor', b: true }], x: 762, y: 38, align: 'left', size: TXT, color: ORANGE },
      { segs: [{ t: 'Rhodesain + inhibitor', b: true }], x: 762, y: 77, align: 'left', size: TXT, color: BLUE },
      { segs: cpd('4'), x: 264, y: 76, align: 'left', size: TXT, color: '#000' },
      { segs: cpdWo('4'), x: 1028, y: 135, align: 'right', size: TXT, color: '#000' },
      { segs: shift('40.74', '445.17'), x: 393, y: 229, align: 'left', size: TXT, color: '#000' },
    ],
  },
  {
    id: 'B', top: 330, height: 297, padTop: 17, xHeight: 18,
    yRange: B_Y_RANGE, yTicks: BC_Y_TICKS, yLabels: BC_Y_LABELS,
    blue: B_with, orange: B_without, arrow: B_ARROW, bottom: false,
    texts: [
      { segs: [{ t: 'B', b: true }], x: 10, y: 358, align: 'left', size: LETTER, color: '#000' },
      { segs: cpd('7'), x: 264, y: 389, align: 'left', size: TXT, color: '#000' },
      { segs: cpdWo('7'), x: 1028, y: 429, align: 'right', size: TXT, color: '#000' },
      { segs: shift('42.03', '462.33'), x: 347, y: 537, align: 'left', size: TXT, color: '#000' },
    ],
  },
  {
    id: 'C', top: 630, height: 356, padTop: 31, xHeight: 63,
    yRange: C_Y_RANGE, yTicks: BC_Y_TICKS, yLabels: BC_Y_LABELS,
    blue: C_with, orange: C_without, arrow: C_ARROW, bottom: true,
    texts: [
      { segs: [{ t: 'C', b: true }], x: 10, y: 664, align: 'left', size: LETTER, color: '#000' },
      { segs: cpd('8'), x: 264, y: 686, align: 'left', size: TXT, color: '#000' },
      { segs: shift('42.03', '462.33'), x: 343, y: 867, align: 'left', size: TXT, color: '#000' },
    ],
  },
];

function buildChart(canvas: HTMLCanvasElement, p: PanelSpec) {
  const overlay = {
    id: 'overlay' + p.id,
    afterDatasetsDraw(chart: any) {
      const ctx: CanvasRenderingContext2D = chart.ctx;
      const xs = chart.scales.x;
      const ys = chart.scales.y;
      ctx.save();
      // mass shift arrow with diamond ends
      const x1 = xs.getPixelForValue(p.arrow[0]);
      const x2 = xs.getPixelForValue(p.arrow[1]);
      const y = ys.getPixelForValue(p.arrow[2]);
      ctx.strokeStyle = '#000';
      ctx.lineWidth = 3.5;
      ctx.beginPath();
      ctx.moveTo(x1, y);
      ctx.lineTo(x2, y);
      ctx.stroke();
      ctx.fillStyle = '#000';
      [x1, x2].forEach((cx) => {
        ctx.beginPath();
        ctx.moveTo(cx - 7, y);
        ctx.lineTo(cx, y - 5);
        ctx.lineTo(cx + 7, y);
        ctx.lineTo(cx, y + 5);
        ctx.closePath();
        ctx.fill();
      });
      // annotations
      p.texts.forEach((t) => drawRich(ctx, t, p.top));
      // x tick labels (bottom panel only)
      if (p.bottom) {
        ctx.font = `${TXT}px ${FAMILY}`;
        ctx.fillStyle = '#000';
        ctx.textAlign = 'center';
        ctx.textBaseline = 'alphabetic';
        X_TICKS.forEach((v, k) => {
          ctx.fillText(X_TICK_LABELS[k], xs.getPixelForValue(v), 953 - p.top);
        });
      }
      ctx.restore();
    },
  };

  return new Chart(canvas, {
    type: 'line',
    data: {
      datasets: [
        {
          label: 'Rhodesain + inhibitor',
          data: p.blue.map(([x, y]) => ({ x, y })),
          borderColor: BLUE,
          borderWidth: 3,
          pointRadius: 0,
          tension: 0,
          borderJoinStyle: 'round',
          order: 0,
        },
        {
          label: 'Rhodesain w/o inhibitor',
          data: p.orange.map(([x, y]) => ({ x, y })),
          borderColor: ORANGE,
          borderWidth: 2.7,
          pointRadius: 0,
          tension: 0,
          borderJoinStyle: 'round',
          order: 1,
        },
      ],
    },
    options: {
      responsive: false,
      animation: false,
      devicePixelRatio: 1,
      events: [],
      layout: { padding: { left: 0, right: 23, top: p.padTop, bottom: 0 } },
      plugins: { legend: { display: false }, tooltip: { enabled: false } },
      scales: {
        x: {
          type: 'linear',
          min: X_MIN,
          max: X_MAX,
          afterBuildTicks: (s: any) => {
            s.ticks = X_TICKS.map((v) => ({ value: v }));
          },
          afterFit: (s: any) => {
            s.height = p.xHeight;
          },
          ticks: { display: false },
          grid: { display: true, drawOnChartArea: false, drawTicks: true, tickLength: 6, color: '#000', lineWidth: 1.5 },
          border: { display: true, color: '#000', width: 1.5 },
          title: {
            display: p.bottom,
            text: 'm/z',
            color: '#000',
            font: { family: FAMILY, size: TXT, style: 'italic' },
            padding: { top: 0, bottom: 0 },
          },
        },
        y: {
          type: 'linear',
          min: p.yRange[0],
          max: p.yRange[1],
          afterBuildTicks: (s: any) => {
            s.ticks = p.yTicks.map((v) => ({ value: v }));
          },
          afterFit: (s: any) => {
            s.width = 144;
          },
          ticks: {
            color: '#000',
            font: { family: FAMILY, size: TXT },
            padding: 3,
            callback: (v: any) => {
              const k = p.yTicks.indexOf(Number(v));
              return k >= 0 ? p.yLabels[k] : '';
            },
          },
          grid: { display: true, drawOnChartArea: false, drawTicks: true, tickLength: 6, color: '#000', lineWidth: 1.5 },
          border: { display: true, color: '#000', width: 1.5 },
          title: {
            display: true,
            text: 'Intensity [arb. units]',
            color: '#000',
            font: { family: FAMILY, size: TXT },
            padding: { top: 31, bottom: 0 },
          },
        },
      },
    } as any,
    plugins: [overlay],
  });
}

export default function App() {
  const refs = useRef<(HTMLCanvasElement | null)[]>([]);

  useEffect(() => {
    const charts = PANELS.map((p, i) => buildChart(refs.current[i] as HTMLCanvasElement, p));
    return () => charts.forEach((c) => c.destroy());
  }, []);

  return (
    <div style={{ position: 'absolute', left: 0, top: 0, width: 1036, height: 986, background: '#fff', overflow: 'hidden' }}>
      {PANELS.map((p, i) => (
        <canvas
          key={p.id}
          ref={(el) => {
            refs.current[i] = el;
          }}
          width={1036}
          height={p.height}
          style={{ position: 'absolute', left: 0, top: p.top, width: 1036, height: p.height }}
        />
      ))}
    </div>
  );
}
